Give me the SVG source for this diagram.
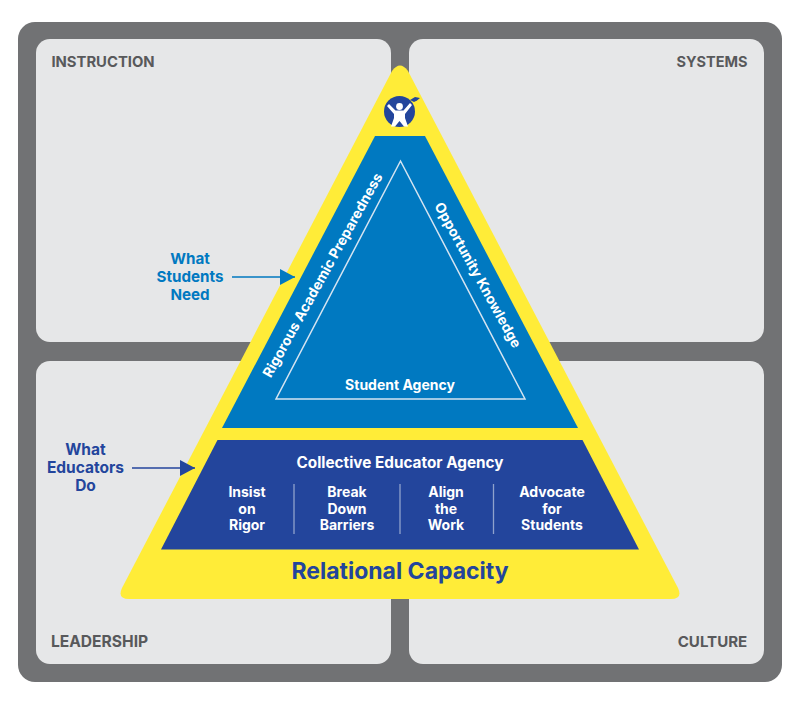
<svg xmlns="http://www.w3.org/2000/svg" width="800" height="704" viewBox="0 0 800 704">
<style>
text{font-family:"Inter","Liberation Sans",sans-serif;font-weight:700;text-anchor:middle}
.panel{fill:#e6e7e8}
.corner{fill:#58595b}
.w{fill:#fff;font-size:14px}
.div{stroke:#8fa2cc;stroke-width:1.3;fill:none}
.blue{fill:#0079c1;font-size:15.2px}
.navy{fill:#23459c;font-size:15.5px}
</style>
<defs>
<marker id="ab" markerUnits="userSpaceOnUse" markerWidth="16" markerHeight="16" refX="15" refY="8" orient="auto"><path d="M0 0L15 8L0 16Z" fill="#0079c1"/></marker>
<marker id="an" markerUnits="userSpaceOnUse" markerWidth="16" markerHeight="16" refX="15" refY="8" orient="auto"><path d="M0 0L15 8L0 16Z" fill="#23459c"/></marker>
</defs>
<rect width="800" height="704" fill="#fff"/>
<rect x="18" y="22" width="764" height="660" rx="17" fill="#717274"/>
<g id="instruction"><rect class="panel" x="36" y="39" width="355" height="303" rx="14"/><text class="corner" x="103" y="66.500" style="font-size:14.800px">INSTRUCTION</text></g>
<g id="systems"><rect class="panel" x="409" y="39" width="355" height="303" rx="14"/><text class="corner" x="712" y="66.500" style="font-size:14.500px">SYSTEMS</text></g>
<g id="leadership"><rect class="panel" x="36" y="361" width="355" height="303" rx="14"/><text class="corner" x="99.500" y="646.500" style="font-size:15.600px">LEADERSHIP</text></g>
<g id="culture"><rect class="panel" x="409" y="361" width="355" height="303" rx="14"/><text class="corner" x="712.500" y="646.500" style="font-size:15.100px">CULTURE</text></g>
<g id="relational-capacity">
<path d="M392 71Q400 60 408 71L678 588Q683 599 671 599L129 599Q117 599 122 588Z" fill="#ffec38"/>
<text x="400" y="579" fill="#23459c" style="font-size:23px">Relational Capacity</text>
</g>
<g id="logo">
<circle cx="399.500" cy="111.500" r="15.500" fill="#23459c"/>
<path d="M389 104L395.500 110.500H403.500L410 103L412 105L405 114V118L408 126.500H404L399.500 121L395 126.500H391L394 118V114L387 106Z" fill="#fff"/>
<circle cx="399.500" cy="106.500" r="3.400" fill="#fff"/>
<path d="M410 100L415 97L420 98L417 100.500L414 102Z" fill="#23459c"/>
</g>
<g id="what-students-need">
<path d="M375 136H425L578 428H222Z" fill="#0079c1"/>
<path d="M400.500 161L525 399H276Z" fill="none" stroke="#d5e4f1" stroke-width="1.500"/>
<text class="w" x="400" y="390">Student Agency</text>
<text class="w" transform="translate(322.500 275) rotate(-61)" x="0" y="5">Rigorous Academic Preparedness</text>
<text class="w" transform="translate(478 275) rotate(61)" x="0" y="5">Opportunity Knowledge</text>
</g>
<g id="what-educators-do">
<path d="M217.500 440H582.500L639 549.500H161Z" fill="#23459c"/>
<text class="w" x="400" y="467.500" style="font-size:15.300px">Collective Educator Agency</text>
<text class="w"><tspan x="247" y="497">Insist</tspan><tspan x="247" y="513.500">on</tspan><tspan x="247" y="530">Rigor</tspan></text>
<text class="w"><tspan x="347" y="497">Break</tspan><tspan x="347" y="513.500">Down</tspan><tspan x="347" y="530">Barriers</tspan></text>
<text class="w"><tspan x="446" y="497">Align</tspan><tspan x="446" y="513.500">the</tspan><tspan x="446" y="530">Work</tspan></text>
<text class="w"><tspan x="552" y="497">Advocate</tspan><tspan x="552" y="513.500">for</tspan><tspan x="552" y="530">Students</tspan></text>
<path class="div" d="M294 484V534M400 484V534M493.500 484V534"/>
</g>
<g id="label-students"><text class="blue"><tspan x="190" y="264">What</tspan><tspan x="190" y="282">Students</tspan><tspan x="190" y="300">Need</tspan></text></g>
<g id="label-educators"><text class="navy"><tspan x="85.500" y="455">What</tspan><tspan x="85.500" y="473">Educators</tspan><tspan x="85.500" y="491">Do</tspan></text></g>
<g id="connectors">
<line x1="232" y1="277" x2="295" y2="277" stroke="#0079c1" stroke-width="1.700" marker-end="url(#ab)"/>
<line x1="132" y1="468" x2="195" y2="468" stroke="#23459c" stroke-width="1.700" marker-end="url(#an)"/>
</g>
</svg>
